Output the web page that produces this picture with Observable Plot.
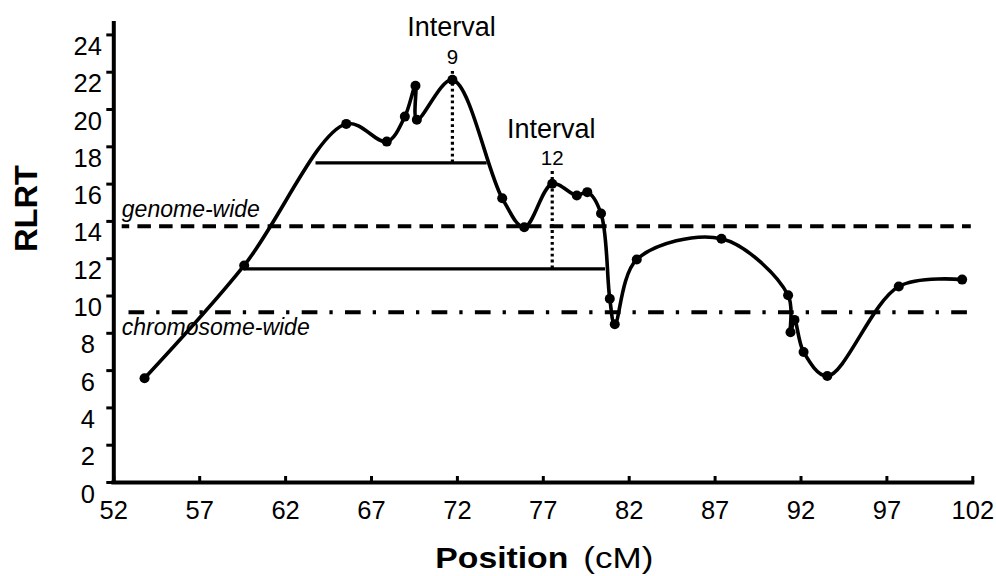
<!DOCTYPE html>
<html>
<head>
<meta charset="utf-8">
<script src="https://cdn.jsdelivr.net/npm/d3@7"></script>
<script src="https://cdn.jsdelivr.net/npm/@observablehq/plot@0.6"></script>
<style>
  html, body { margin: 0; padding: 0; background: #fff; }
  #chart svg { display: block; }
</style>
</head>
<body>
<div id="chart"></div>
<script>
// ---- data ----
const positions = [53.79, 59.59, 65.53, 67.89, 68.94, 69.56, 69.64, 71.71, 74.61, 75.89, 77.52, 78.95, 79.56, 80.36, 80.87, 81.16, 82.44, 87.37, 91.25, 91.39, 91.62, 92.15, 93.53, 97.69, 101.38];
const rlrtValues = [5.59, 11.64, 19.23, 18.28, 19.62, 21.27, 19.45, 21.59, 15.24, 13.69, 16.02, 15.39, 15.57, 14.42, 9.85, 8.49, 11.96, 13.07, 10.04, 8.06, 8.72, 7.0, 5.71, 10.51, 10.88];

const xTicks = [52, 57, 62, 67, 72, 77, 82, 87, 92, 97, 102];
const yTicks = [0, 2, 4, 6, 8, 10, 12, 14, 16, 18, 20, 22, 24];

const thresholdNames = ["genome-wide", "chromosome-wide"];
const thresholdValues = [13.74, 9.13];

const intervalNames = ["9", "12"];
const intervalPeakPos = [71.71, 77.52];
const intervalTop = [22.14, 16.69];
const intervalLevel = [17.14, 11.46];
const intervalLeft = [63.77, 59.59];
const intervalRight = [73.73, 80.62];

const xTitleBold = "Position";
const xTitleUnit = "(cM)";
const yTitle = "RLRT";
const intervalWord = "Interval";

// ---- tables built from the arrays ----
const curve = positions.map((p, i) => ({pos: p, rlrt: rlrtValues[i]}));
const intervals = intervalNames.map((n, i) => ({
  name: n, pos: intervalPeakPos[i], top: intervalTop[i],
  level: intervalLevel[i], left: intervalLeft[i], right: intervalRight[i]
}));
const genome = [{name: thresholdNames[0], value: thresholdValues[0]}];
const chromo = [{name: thresholdNames[1], value: thresholdValues[1]}];

const font = "'Liberation Sans', Arial, Helvetica, sans-serif";

const chart = Plot.plot({
  width: 996,
  height: 576,
  marginTop: 21,
  marginBottom: 94,
  marginLeft: 113.3,
  marginRight: 23.7,
  x: {domain: [52, 102], axis: null},
  y: {domain: [0, 24.72], axis: null},
  style: {fontFamily: font, background: "#fff", color: "#000"},
  marks: [
    // threshold lines
    Plot.ruleY(genome, {y: "value", stroke: "#000", strokeWidth: 3.8, strokeDasharray: "13.5,8.2", strokeDashoffset: 6, insetLeft: 8.4, insetRight: 1.5}),
    Plot.ruleY(chromo, {y: "value", stroke: "#000", strokeWidth: 3.8, strokeDasharray: "15.7,12,3.3,12.3", strokeDashoffset: 36.5, insetLeft: 8.4, insetRight: 0}),
    Plot.text(genome, {y: "value", text: "name", frameAnchor: "left", dx: 8, dy: -9, textAnchor: "start", lineAnchor: "bottom", fontStyle: "italic", fontSize: 23, fill: "#000"}),
    Plot.text(chromo, {y: "value", text: "name", frameAnchor: "left", dx: 8, dy: 22.6, textAnchor: "start", lineAnchor: "bottom", fontStyle: "italic", fontSize: 23, fill: "#000"}),

    // support interval lines
    Plot.ruleY(intervals, {y: "level", x1: "left", x2: "right", stroke: "#000", strokeWidth: 3.2}),
    Plot.ruleX(intervals, {x: "pos", y1: "level", y2: "top", stroke: "#000", strokeWidth: 3.2, strokeDasharray: "2.8,3.1"}),
    Plot.text(intervals, {x: "pos", y: "top", text: "name", dy: -6, lineAnchor: "bottom", fontSize: 20.5, fill: "#000"}),
    Plot.text(intervals, {x: "pos", y: "top", text: () => intervalWord, dx: -1, dy: -33.5, lineAnchor: "bottom", fontSize: 27, fill: "#000"}),

    // profile curve and markers
    Plot.line(curve, {x: "pos", y: "rlrt", curve: "catmull-rom", stroke: "#000", strokeWidth: 3.6}),
    Plot.dot(curve, {x: "pos", y: "rlrt", r: 5, fill: "#000", stroke: null}),

    // axes
    Plot.ruleX([xTicks[0]], {stroke: "#000", strokeWidth: 4}),
    Plot.ruleY([yTicks[0]], {stroke: "#000", strokeWidth: 4, strokeLinecap: "square"}),
    Plot.ruleY(yTicks, {y: d => d, x1: xTicks[0], x2: xTicks[0], insetLeft: -7, stroke: "#000", strokeWidth: 3}),
    Plot.ruleX(xTicks, {x: d => d, y1: yTicks[0], y2: yTicks[0], insetBottom: 6, stroke: "#000", strokeWidth: 3}),
    Plot.text(yTicks, {y: d => d, text: d => String(d), frameAnchor: "left", dx: -26, dy: 20, textAnchor: "middle", lineAnchor: "bottom", fontSize: 25.5, fill: "#000"}),
    Plot.text(xTicks, {x: d => d, text: d => String(d), frameAnchor: "bottom", dy: 36, lineAnchor: "bottom", fontSize: 25.5, fill: "#000"}),

    // axis titles
    Plot.text([yTitle], {frameAnchor: "left", dx: -87, rotate: -90, fontWeight: "bold", fontSize: 31, fill: "#000", className: "ytitle"}),
    Plot.text([xTitleBold], {frameAnchor: "bottom", dx: 25, dy: 85, textAnchor: "end", lineAnchor: "bottom", fontWeight: "bold", fontSize: 29, fill: "#000", className: "xtitle-bold"}),
    Plot.text([xTitleUnit], {frameAnchor: "bottom", dx: 40, dy: 85, textAnchor: "start", lineAnchor: "bottom", fontSize: 29, fill: "#000", className: "xtitle-unit"})
  ]
});

document.getElementById("chart").appendChild(chart);

// slight horizontal stretch of the axis titles, as in the reference
d3.select(chart).selectAll(".xtitle-bold text").attr("textLength", 133).attr("lengthAdjust", "spacingAndGlyphs");
d3.select(chart).selectAll(".xtitle-unit text").attr("textLength", 70).attr("lengthAdjust", "spacingAndGlyphs");
d3.select(chart).selectAll(".ytitle text").attr("textLength", 87).attr("lengthAdjust", "spacingAndGlyphs");
</script>
</body>
</html>
